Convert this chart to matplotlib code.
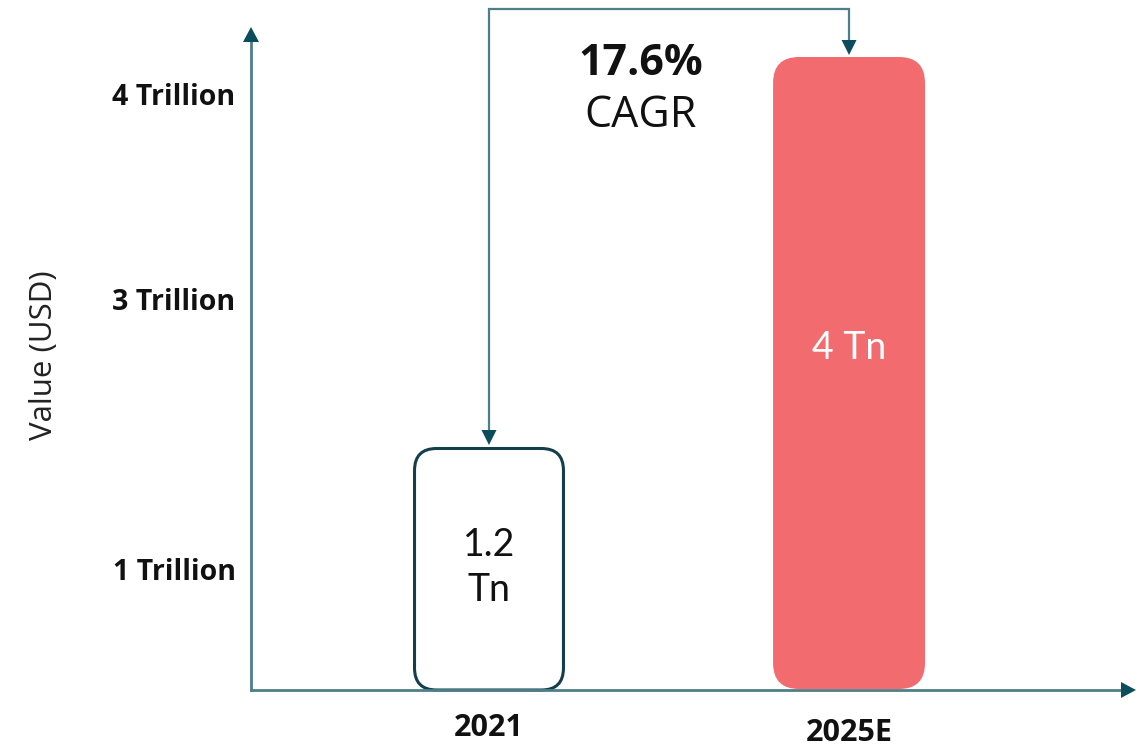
import numpy as np
import matplotlib
matplotlib.use("Agg")
import matplotlib.pyplot as plt
from matplotlib.patches import FancyBboxPatch, Polygon
from matplotlib.lines import Line2D
from matplotlib.transforms import blended_transform_factory

# ---------------- data ----------------
categories = ["2021", "2025E"]
values = [1.2, 4.0]                      # trillion USD
value_labels = ["1.2\nTn", "4 Tn"]
cagr_value = "17.6%"
cagr_text = "CAGR"
ytick_labels = ["1 Trillion", "3 Trillion", "4 Trillion"]
ylabel = "Value (USD)"

# ---------------- style ----------------
W, H = 1147, 748
LINE = "#4e7f88"
HEAD = "#0b4d5c"
EDGE = "#143f4a"
CORAL = "#f26b6f"
TXT = "#111111"

fig = plt.figure(figsize=(W / 100, H / 100), dpi=100)
ax = fig.add_axes([251 / W, 58 / H, 885 / W, 663 / H])
ax.set_axis_off()

# infographic (not-to-scale) value axis: piecewise-linear scale through the bars
anchor_v = [-10, 0, values[0], values[1], 10]
anchor_p = [-2025, 0, 243, 633, 633 + 6 * 139.3]
fwd = lambda v: np.interp(v, anchor_v, anchor_p)
inv = lambda p: np.interp(p, anchor_p, anchor_v)
ax.set_yscale("function", functions=(fwd, inv))
ax.set_ylim(0, inv(663))
ax.set_xlim(-0.661, 1.797)
x = np.arange(len(categories))
bw = 0.422

fig.canvas.draw()
T = ax.transData

def D(px, py):
    return T.transform((px, py))

# bars (drawn beneath the axes contents)
radii = [22, 26]
for i, v in enumerate(values):
    (x0, y0) = D(x[i] - bw / 2, 0)
    (x1, y1) = D(x[i] + bw / 2, v)
    if i == 0:
        p = FancyBboxPatch((x0 + 1.5, y0), x1 - x0 - 3, y1 - y0 - 1.5,
                           boxstyle=f"round,pad=0,rounding_size={radii[i]}",
                           transform=None, facecolor="white", edgecolor=EDGE,
                           linewidth=2.2, zorder=-1)
    else:
        p = FancyBboxPatch((x0, y0 + 1), x1 - x0, y1 - y0 - 1,
                           boxstyle=f"round,pad=0,rounding_size={radii[i]}",
                           transform=None, facecolor=CORAL, edgecolor="none",
                           zorder=-1)
    fig.add_artist(p)

# value labels in bars
bar_lab_y = [0.185, 0.516]
lab_colors = [TXT, "white"]
bt = blended_transform_factory(ax.transData, ax.transAxes)
for i, lab in enumerate(value_labels):
    ax.text(x[i], bar_lab_y[i], lab, transform=bt, ha="center", va="center",
            fontsize=27, color=lab_colors[i], family="Lato", linespacing=1.3,
            zorder=5)

def tri(tip, direction, size=16, length=15, color=HEAD):
    tx, ty = tip
    h = size / 2
    if direction == "up":
        pts = [(tx, ty), (tx - h, ty - length), (tx + h, ty - length)]
    elif direction == "down":
        pts = [(tx, ty), (tx - h, ty + length), (tx + h, ty + length)]
    else:
        pts = [(tx, ty), (tx - length, ty + h), (tx - length, ty - h)]
    fig.add_artist(Polygon(pts, closed=True, transform=None, facecolor=color,
                           edgecolor="none", zorder=6))

# axes with arrows
ox, oy = ax.transAxes.transform((0, 0))
tx_, ty_ = ax.transAxes.transform((1, 1))
fig.add_artist(Line2D([ox, ox], [oy, ty_ - 14], transform=None, color=LINE, lw=2, zorder=4))
fig.add_artist(Line2D([ox, tx_ - 14], [oy, oy], transform=None, color=LINE, lw=2, zorder=4))
tri((ox, ty_), "up")
tri((tx_, oy), "right")

# CAGR connector
top_y = H - 9
a = D(x[0], values[0])
b = D(x[1], values[1])
fig.add_artist(Line2D([a[0], a[0], b[0], b[0]],
                      [a[1] + 16, top_y, top_y, b[1] + 16],
                      transform=None, color=LINE, lw=1.6, zorder=4,
                      solid_joinstyle="miter"))
tri((a[0], a[1] + 2), "down", size=15, length=15)
tri((b[0], b[1] + 2), "down", size=15, length=15)

cx = (641 - 489) / 360
ax.text(cx, 0.945, cagr_value, transform=bt, ha="center", va="center",
        fontsize=31, fontweight="bold", color=TXT, family="Open Sans")
ax.text(cx, 0.866, cagr_text, transform=bt, ha="center", va="center",
        fontsize=31, color=TXT, family="Open Sans")

# y tick labels (infographic placement)
tick_frac = [0.1765, 0.585, 0.8944]
for lab, fy in zip(ytick_labels, tick_frac):
    ax.text(-0.0870, fy, lab, transform=ax.transAxes, ha="center", va="center",
            fontsize=20.5, fontweight="bold", color=TXT, family="Open Sans")

# x labels
xlab_y = [-0.0573, -0.0649]
for i, lab in enumerate(categories):
    ax.text(x[i], xlab_y[i], lab, transform=bt, ha="center", va="center",
            fontsize=22, fontweight="bold", color=TXT, family="Open Sans")

ax.text(-0.2340, 0.505, ylabel, transform=ax.transAxes, rotation=90,
        ha="center", va="center", fontsize=22.5, color="#222222", family="Open Sans")

fig.savefig("out.png", dpi=100)
